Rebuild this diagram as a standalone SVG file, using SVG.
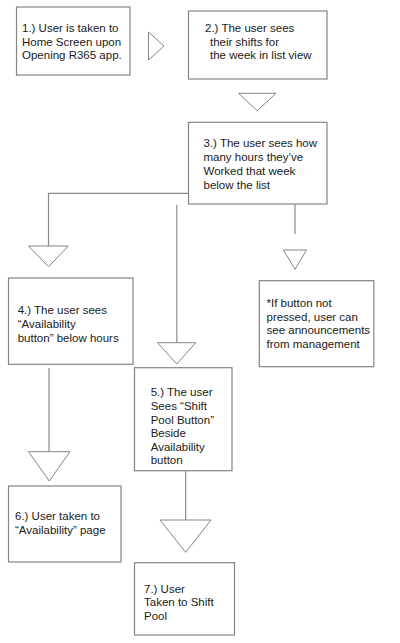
<svg xmlns="http://www.w3.org/2000/svg" width="400" height="643" viewBox="0 0 400 643">
<style>
.box{fill:#fff;stroke:#858585;stroke-width:1.2}
.tri{fill:#fff;stroke:#858585;stroke-width:1}
.ln{fill:none;stroke:#8a8a8a;stroke-width:1.2}
text{font-family:"Liberation Sans",Arial,sans-serif;font-size:11.5px;fill:#1a1a1a}
</style>
<rect width="400" height="643" fill="#fff"/>
<g id="connectors">
<polyline class="ln" points="188,193.3 48.5,193.3 48.5,246"/>
<line class="ln" x1="176.8" y1="205" x2="176.8" y2="343"/>
<line class="ln" x1="295" y1="204" x2="295" y2="234"/>
<line class="ln" x1="49" y1="368" x2="49" y2="452"/>
<line class="ln" x1="185.7" y1="471" x2="185.7" y2="520"/>
<polygon class="tri" points="148.5,32 164,46 148.5,60"/>
<polygon class="tri" points="238.5,93.3 276,93.3 257.3,110.7"/>
<polygon class="tri" points="28.5,246 68.3,246 48.5,266.7"/>
<polygon class="tri" points="157.5,342.7 195.7,342.7 176.8,364"/>
<polygon class="tri" points="283.5,250 306.5,250 295,269.3"/>
<polygon class="tri" points="28.5,451.7 70,451.7 49.3,481"/>
<polygon class="tri" points="160,520 211,520 185.7,552.3"/>
</g>
<g id="n1">
<rect class="box" x="16.5" y="7" width="113.5" height="68"/>
<text x="22" y="31.7">1.) User is taken to</text>
<text x="22" y="45.5">Home Screen upon</text>
<text x="22" y="59.3">Opening R365 app.</text>
</g>
<g id="n2">
<rect class="box" x="188.5" y="11" width="138.5" height="68"/>
<text x="205" y="31.7">2.) The user sees</text>
<text x="210" y="45.5">their shifts for</text>
<text x="210" y="59.3">the week in list view</text>
</g>
<g id="n3">
<rect class="box" x="188.5" y="122.3" width="138.5" height="81.7"/>
<text x="203.5" y="147.3">3.) The user sees how</text>
<text x="203.5" y="161">many hours they’ve</text>
<text x="203.5" y="174.8">Worked that week</text>
<text x="203.5" y="188.5">below the list</text>
</g>
<g id="n4">
<rect class="box" x="8.5" y="278" width="124.5" height="86.3"/>
<text x="17.7" y="314.3">4.) The user sees</text>
<text x="17.7" y="328">“Availability</text>
<text x="17.7" y="341.7">button” below hours</text>
</g>
<g id="note">
<rect class="box" x="259.3" y="280.7" width="114.5" height="86"/>
<text x="266.5" y="307">*If button not</text>
<text x="266.5" y="320.7">pressed, user can</text>
<text x="266.5" y="334">see announcements</text>
<text x="266.5" y="347.5">from management</text>
</g>
<g id="n5">
<rect class="box" x="134.5" y="367.7" width="97.5" height="103"/>
<text x="150.7" y="396.3">5.) The user</text>
<text x="150.7" y="410">Sees “Shift</text>
<text x="150.7" y="423.7">Pool Button”</text>
<text x="150.7" y="437.3">Beside</text>
<text x="150.7" y="450.8">Availability</text>
<text x="150.7" y="464.3">button</text>
</g>
<g id="n6">
<rect class="box" x="8.5" y="486" width="112.5" height="76"/>
<text x="15" y="520">6.) User taken to</text>
<text x="15" y="533.5">“Availability” page</text>
</g>
<g id="n7">
<rect class="box" x="134.5" y="562.7" width="100" height="72.3"/>
<text x="144" y="592.7">7.) User</text>
<text x="144" y="606">Taken to Shift</text>
<text x="144" y="619.5">Pool</text>
</g>
</svg>
